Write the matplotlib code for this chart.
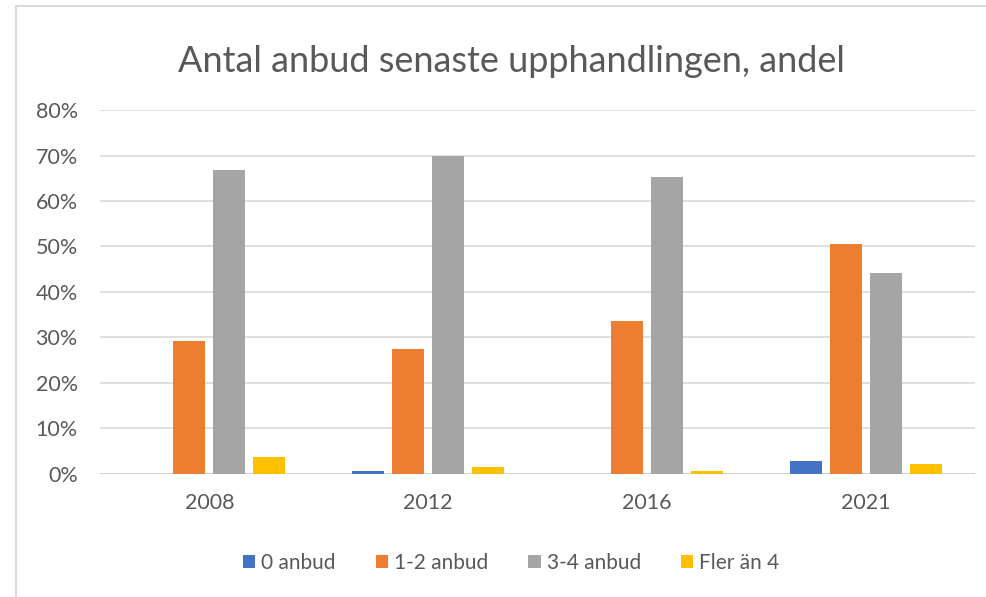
import matplotlib
matplotlib.use("Agg")
import matplotlib.pyplot as plt
from matplotlib.lines import Line2D
import numpy as np

# Andel per antal anbud (procent)
years = ["2008", "2012", "2016", "2021"]
anbud_0 = [0.0, 0.5, 0.0, 2.7]
anbud_1_2 = [29.1, 27.4, 33.5, 50.5]
anbud_3_4 = [66.8, 69.9, 65.3, 44.2]
fler_an_4 = [3.7, 1.4, 0.7, 2.1]

series = [("0 anbud", anbud_0, "#4472C4"),
          ("1-2 anbud", anbud_1_2, "#ED7D31"),
          ("3-4 anbud", anbud_3_4, "#A5A5A5"),
          ("Fler än 4", fler_an_4, "#FFC000")]

plt.rcParams['font.family'] = ['Lato', 'DejaVu Sans']
txt = '#595959'

fig = plt.figure(figsize=(9.87, 5.97), dpi=100)
ax = fig.add_axes([0.1013, 0.2065, 0.8865, 0.609])

x = np.arange(len(years))
step = 0.183
width = 0.146
for i, (name, vals, col) in enumerate(series):
    ax.bar(x + (i - 1.5) * step, np.array(vals) / 100, width, color=col, label=name, zorder=3)

ax.set_xlim(-0.5, len(years) - 0.5)
ax.set_ylim(0, 0.8)
ax.set_yticks(np.arange(0, 0.81, 0.1))
ax.set_yticklabels([f"{int(round(v * 100))}%" for v in np.arange(0, 0.81, 0.1)])
ax.set_xticks(x)
ax.set_xticklabels(years)
ax.grid(axis='y', color='#D9D9D9', linewidth=1.2, zorder=0)
for s in ax.spines.values():
    s.set_visible(False)
ax.axhline(0, color='#D0D0D0', linewidth=1.2, zorder=2)
ax.tick_params(length=0, labelsize=15.5, colors=txt)
ax.tick_params(axis='y', pad=16)
ax.tick_params(axis='x', pad=14)

fig.suptitle("Antal anbud senaste upphandlingen, andel", x=0.518, y=0.925,
             fontsize=26, color=txt)

ax.legend(loc='center', bbox_to_anchor=(0.47, -0.245), ncol=4, frameon=False,
          fontsize=15, handlelength=0.6, handleheight=0.6, handletextpad=0.3,
          columnspacing=1.9, labelcolor=txt)

# ram runt diagrammet (vänster och överkant syns)
fig.add_artist(Line2D([16 / 987, 16 / 987], [0, 1 - 6 / 597], transform=fig.transFigure,
                      color='#D9D9D9', linewidth=1.5))
fig.add_artist(Line2D([16 / 987, 1], [1 - 6 / 597, 1 - 6 / 597], transform=fig.transFigure,
                      color='#D9D9D9', linewidth=1.5))

fig.savefig('out.png', dpi=100)
